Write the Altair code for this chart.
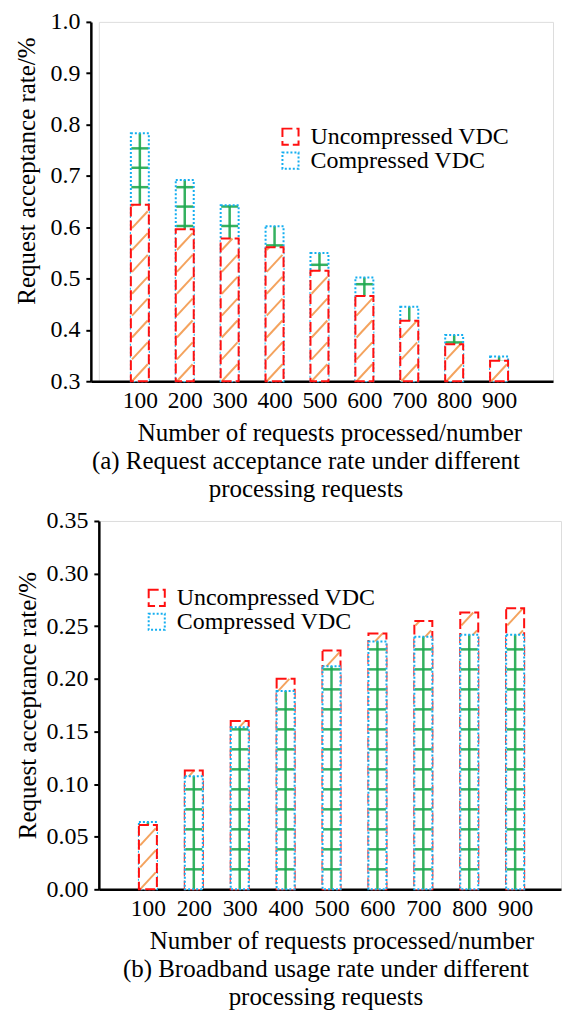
import altair as alt
import pandas as pd

# ---------------- data ----------------
categories = [100, 200, 300, 400, 500, 600, 700, 800, 900]
series_names = ["Uncompressed VDC", "Compressed VDC"]

acc_uncompressed = [0.644, 0.596, 0.578, 0.561, 0.515, 0.466, 0.418, 0.372, 0.340]
acc_compressed = [0.783, 0.692, 0.643, 0.602, 0.550, 0.502, 0.445, 0.390, 0.348]

bw_uncompressed = [0.061, 0.113, 0.160, 0.200, 0.227, 0.243, 0.255, 0.263, 0.267]
bw_compressed = [0.064, 0.1075, 0.154, 0.1885, 0.212, 0.2355, 0.240, 0.242, 0.242]

acc_ticks = [0.3, 0.4, 0.5, 0.6, 0.7, 0.8, 0.9, 1.0]
bw_ticks = [0.00, 0.05, 0.10, 0.15, 0.20, 0.25, 0.30, 0.35]

x_title = "Number of requests processed/number"
y_title = "Request acceptance rate/%"
caption_a = ["(a) Request acceptance rate under different", "processing requests"]
caption_b = ["(b) Broadband usage rate under different", "processing requests"]

FONT = "Liberation Serif"
RED = "#ff1010"
BLUE = "#14aef0"
GREEN = "#1fa84f"
ORANGE = "#f4a35e"
RED_DASH = [10, 4]
BLUE_DASH = [2, 2]


def long_table(unc, comp):
    rows = []
    for c, u, v in zip(categories, unc, comp):
        rows.append({"cat": c, "series": series_names[0], "value": u})
        rows.append({"cat": c, "series": series_names[1], "value": v})
    return pd.DataFrame(rows)


def make_legend(x, y, value, extra):
    return alt.Legend(title=None, orient="none", legendX=x, legendY=y,
                      values=[value], symbolType="square", symbolSize=260,
                      symbolStrokeWidth=2, symbolFillColor="white",
                      labelFont=FONT, labelFontSize=24, labelColor="black",
                      labelOffset=8, padding=0, labelLimit=400, **extra)


def panel(df, base, ydomain, yvals, yfmt, xdomain, xrange, width, height,
          hatch_gap, hatch_rise, tick_gap, hw, leg_x, leg_y1, leg_y2, caption, cap_dx,
          y_offset, y_title_pad, y_title_y, x_title_x):
    xscale = alt.Scale(domain=xdomain, range=xrange, nice=False, zero=False)
    yscale = alt.Scale(domain=ydomain, nice=False, zero=False)
    xaxis = alt.Axis(values=categories, ticks=False, grid=False, title=x_title,
                     labelFont=FONT, labelFontSize=23.5, labelColor="black",
                     labelPadding=7, labelOverlap=False, labelFlush=False,
                     titleFont=FONT, titleFontSize=25, titleFontWeight="normal",
                     titleColor="black", titlePadding=9, titleX=x_title_x,
                     domainColor="black", domainWidth=2.5)
    yargs = dict(values=yvals, format=yfmt, grid=False, title=y_title,
                 labelFont=FONT, labelFontSize=24, labelColor="black",
                 labelPadding=6, tickColor="black", tickWidth=2, tickSize=5,
                 titleFont=FONT, titleFontSize=25, titleFontWeight="normal",
                 titleColor="black", titlePadding=y_title_pad, offset=y_offset,
                 domainColor="black", domainWidth=2.5)
    if y_title_y is not None:
        yargs["titleY"] = y_title_y
    yaxis = alt.Axis(**yargs)

    base_chart = alt.Chart(df).transform_joinaggregate(
        maxv="max(value)", groupby=["cat"]
    ).transform_calculate(
        front="datum.value < datum.maxv ? 1 : 0",
        series2="datum.series",
    )

    X = alt.X("cat:Q", scale=xscale, axis=xaxis)
    Y = alt.Y("value:Q", scale=yscale, axis=yaxis)
    leg_unc = make_legend(leg_x, leg_y1, series_names[0], {"symbolDash": RED_DASH})
    leg_comp = make_legend(leg_x, leg_y2, series_names[1], {"symbolStrokeColor": BLUE})

    layers = []
    for f in [0, 1]:
        sel = base_chart.transform_filter(f"datum.front == {f}")
        # white fill
        layers.append(sel.mark_bar(size=18, fill="white", strokeWidth=0).encode(
            x=X, y=Y, y2=alt.datum(base)))
        comp = sel.transform_filter(f"datum.series == '{series_names[1]}'")
        unc = sel.transform_filter(f"datum.series == '{series_names[0]}'")
        # green pattern: horizontal bars + vertical line
        layers.append(comp.transform_calculate(
            seq=f"sequence({base} + {tick_gap}, datum.value, {tick_gap})"
        ).transform_flatten(["seq"]).mark_tick(
            orient="horizontal", size=17, thickness=2.5, color=GREEN, opacity=0.9
        ).encode(x=alt.X("cat:Q", scale=xscale), y=alt.Y("seq:Q", scale=yscale)))
        layers.append(comp.mark_rule(color=GREEN, strokeWidth=2.5, opacity=0.9).encode(
            x=alt.X("cat:Q", scale=xscale), y=alt.Y("value:Q", scale=yscale),
            y2=alt.datum(base)))
        # orange diagonal hatch
        layers.append(unc.transform_calculate(
            t=f"sequence({base}, datum.value, {hatch_gap})"
        ).transform_flatten(["t"]).transform_calculate(
            ye=f"min(datum.t + {hatch_rise}, datum.value)",
        ).transform_calculate(
            xa=f"datum.cat - {hw}",
            xb=f"datum.cat - {hw} + 2 * {hw} * (datum.ye - datum.t) / {hatch_rise}",
        ).mark_rule(color=ORANGE, strokeWidth=2).encode(
            x=alt.X("xa:Q", scale=xscale), x2="xb:Q",
            y=alt.Y("t:Q", scale=yscale), y2="ye:Q"))
        # outline
        layers.append(sel.mark_bar(size=18, fill="transparent", strokeWidth=2).encode(
            x=X, y=Y, y2=alt.datum(base),
            stroke=alt.Stroke("series:N",
                              scale=alt.Scale(domain=series_names, range=[RED, BLUE]),
                              legend=leg_unc),
            strokeDash=alt.StrokeDash("series2:N",
                                      scale=alt.Scale(domain=series_names[::-1],
                                                      range=[BLUE_DASH, RED_DASH]),
                                      legend=leg_comp),
        ))

    return alt.layer(*layers).properties(
        width=width, height=height,
        title=alt.TitleParams(text=caption, orient="bottom", anchor="middle",
                              frame="group", font=FONT, fontSize=25,
                              fontWeight="normal", color="black", lineHeight=28,
                              offset=3, dx=cap_dx),
    )


top = panel(long_table(acc_uncompressed, acc_compressed), 0.3, [0.3, 1.0], acc_ticks,
            ".1f", [2, 1009], [-8, 455], 455, 360,
            hatch_gap=0.0426, hatch_rise=0.033, tick_gap=0.0378, hw=17.5,
            leg_x=180, leg_y1=103, leg_y2=127, caption=caption_a, cap_dx=-20,
            y_offset=8, y_title_pad=10.5, y_title_y=149, x_title_x=231)

bottom = panel(long_table(bw_uncompressed, bw_compressed), 0.0, [0.0, 0.35], bw_ticks,
               ".2f", [4, 989], [0, 463], 463, 369,
               hatch_gap=0.0209, hatch_rise=0.0161, tick_gap=0.019, hw=17,
               leg_x=46, leg_y1=65, leg_y2=89, caption=caption_b, cap_dx=-4,
               y_offset=0, y_title_pad=5.5, y_title_y=None, x_title_x=243)

chart = alt.concat(top, bottom, columns=1, spacing=6, align="none").resolve_scale(
    x="independent", y="independent", stroke="independent", strokeDash="independent"
).resolve_legend(stroke="independent", strokeDash="independent").properties(
    padding={"left": 5, "top": 0, "right": 0, "bottom": 0}
).configure_view(stroke=None).configure(background="white")

chart.save("out.html", embed_options={"renderer": "svg", "actions": False})
